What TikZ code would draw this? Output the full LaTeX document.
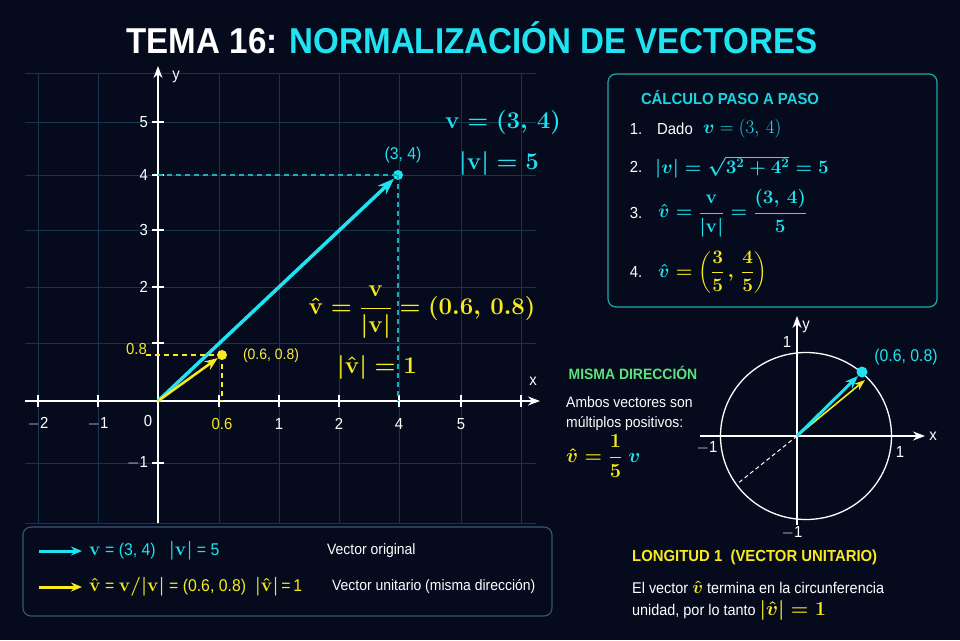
\RequirePackage{fix-cm}
\documentclass[tikz,border=0pt]{standalone}
\usepackage{amsmath}
\usepackage{bm}
\usepackage{fontspec}
\setsansfont{Liberation Sans}[FakeStretch=0.93]
\newfontfamily\titlefont{Liberation Sans}[FakeStretch=0.92]
\usetikzlibrary{arrows.meta}
\definecolor{bgc}{HTML}{050B1D}
\definecolor{gridc}{HTML}{18354E}
\definecolor{cyn}{HTML}{1FE3F0}
\definecolor{cyndark}{HTML}{19AEB8}
\definecolor{ylw}{HTML}{F7EA1E}
\definecolor{grn}{HTML}{5BE27C}
\definecolor{boxc}{HTML}{1FA9A3}
\definecolor{legc}{HTML}{3A5676}
\newcommand{\bv}{\mathbf{v}}
\newcommand{\hv}{\hat{\mathbf{v}}}
\newcommand{\hvi}{\hat{\bm{v}}}
\newcommand{\vbar}{\mathclose{|}}
\newcommand{\vbarl}{\mathopen{|}}
\newcommand{\TxtVeq}{{\mathversion{bold}$\bv = (3,\,4)$}}
\newcommand{\TxtVnorm}{{\mathversion{bold}$\vbarl\bv\vbar = 5$}}
\newcommand{\TxtVhatEq}{{\mathversion{bold}$\hv = \displaystyle\frac{\bv}{\vbarl\bv\vbar} = (0.6,\,0.8)$}}
\newcommand{\TxtVhatNorm}{{\mathversion{bold}$\vbarl\hv\vbar = 1$}}
\newcommand{\TxtStepTwo}{{\mathversion{bold}$\vbarl\bm{v}\vbar = \sqrt{3^2+4^2} = 5$}}
\newcommand{\TxtStepThree}{{\mathversion{bold}$\hvi = \displaystyle\frac{\bv}{\vbarl\bv\vbar} = \frac{(3,\,4)}{5}$}}
\newcommand{\TxtStepFour}{{\mathversion{bold}$\textcolor{cyn}{\hvi} = \left(\displaystyle\frac{3}{5}\,,\,\frac{4}{5}\right)$}}
\newcommand{\TxtOneFifth}{{\mathversion{bold}$\hvi = \displaystyle\frac{1}{5}\ \textcolor{cyn}{\bm{v}}$}}
\newcommand{\TxtHatSmall}{{\mathversion{bold}\fontsize{18}{20}\selectfont$\hvi$}}
\newcommand{\TxtNormSmall}{{\mathversion{bold}\fontsize{20}{22}\selectfont$\vbarl\hvi\vbar = 1$}}
\newcommand{\LegM}[1]{{\mathversion{bold}\fontsize{19}{20}\selectfont$#1$}}
\begin{document}
\begin{tikzpicture}[x=1pt,y=-1pt,
  txt/.style={font=\sffamily\fontsize{15}{18}\selectfont, text=white, inner sep=0pt},
  legtxt/.style={font=\sffamily\fontsize{17}{20}\selectfont, inner sep=0pt, anchor=west},
  ticklbl/.style={font=\sffamily\fontsize{16}{18}\selectfont, text=white, inner sep=0pt},
  bigmath/.style={font=\fontsize{24}{28}\selectfont, inner sep=0pt},
  stepmath/.style={font=\fontsize{19}{22}\selectfont, inner sep=0pt, anchor=west},
  steplbl/.style={font=\sffamily\fontsize{16}{18}\selectfont, text=white, inner sep=0pt},
  gridline/.style={gridc, line width=0.8pt},
  axisarrow/.style={white, line width=1.3pt, -{Stealth[length=12pt,width=9pt]}},
  tickmark/.style={white, line width=1.2pt},
  dot/.style={circle, inner sep=0pt, minimum size=10pt},
  dashcyan/.style={cyndark, line width=1.1pt, dash pattern=on 5pt off 4pt},
  dashylw/.style={ylw, line width=1.1pt, dash pattern=on 5pt off 4pt},
]
\fill[bgc] (0,0) rectangle (960,640);
\useasboundingbox (0,0) rectangle (960,640);

% ---------- title
\node[inner sep=0pt] (title) at (472,38) {\titlefont\bfseries\fontsize{36}{40}\selectfont\textcolor{white}{TEMA 16:} \textcolor{cyn}{NORMALIZACIÓN DE VECTORES}};

% ---------- grid
\foreach \gx in {38,98,219,279,339,399,461,521}{
  \draw[gridline] (\gx,73) -- (\gx,523);
}
\foreach \gy in {73,122,175,230,287,343,463,523}{
  \draw[gridline] (25,\gy) -- (536,\gy);
}

% ---------- axes
\coordinate (O) at (158,401);
\coordinate (xs) at (25,401);
\coordinate (xe) at (540,401);
\coordinate (ys) at (158,523);
\coordinate (ye) at (158,66);
\draw[axisarrow] (xs) -- (xe);
\draw[axisarrow] (ys) -- (ye);
\node[ticklbl] (xlbl) at (533,381) {x};
\node[ticklbl] (ylbl) at (176,77) {y};

\foreach \gx in {38,98,219,279,339,399,461,521}{
  \draw[tickmark] (\gx,395) -- (\gx,407);
}
\foreach \gy in {122,175,230,287,343,463}{
  \draw[tickmark] (152,\gy) -- (164,\gy);
}
\node[ticklbl, anchor=east] (y5) at (148,122) {5};
\node[ticklbl, anchor=east] (y4) at (148,175) {4};
\node[ticklbl, anchor=east] (y3) at (148,230) {3};
\node[ticklbl, anchor=east] (y2) at (148,287) {2};
\node[ticklbl, anchor=east, text=ylw] (y08) at (147,349) {0.8};
\node[ticklbl, anchor=east] (ym1) at (148,463) {$-$1};

\node[ticklbl] (xm2) at (38,424) {$-$2};
\node[ticklbl] (xm1) at (98,424) {$-$1};
\node[ticklbl] (x0) at (148,421) {0};
\node[ticklbl, text=ylw] (x06) at (222,424) {0.6};
\node[ticklbl] (x1) at (279,424) {1};
\node[ticklbl] (x2) at (339,424) {2};
\node[ticklbl] (x4) at (399,424) {4};
\node[ticklbl] (x5) at (461,424) {5};

% ---------- cyan vector
\node[dot, fill=cyn] (dotA) at (398,175) {};
\coordinate (c4y) at (158,175);
\coordinate (c4x) at (398,401);
\draw[dashcyan] (c4y) -- (dotA.center);
\draw[dashcyan] (dotA.center) -- (c4x);
\draw[cyn, line width=3.5pt, -{Stealth[length=17pt,width=12pt]}] (O) -- (dotA);
\node[font=\sffamily\fontsize{17}{20}\selectfont, text=cyn, inner sep=0pt] (lab34) at (403,155) {(3, 4)};

\node[bigmath, text=cyn] (veq) at (503,122) {\TxtVeq};
\node[bigmath, text=cyn] (vnorm) at (499,163) {\TxtVnorm};

% ---------- yellow vector
\node[dot, fill=ylw] (dotB) at (222,355) {};
\coordinate (c08y) at (146,355);
\coordinate (c06x) at (222,401);
\draw[dashylw] (c08y) -- (dotB.center);
\draw[dashylw] (dotB.center) -- (c06x);
\draw[ylw, line width=2.5pt, -{Stealth[length=13pt,width=10pt]}] (O) -- (dotB);
\node[font=\sffamily\fontsize{15}{18}\selectfont, text=ylw!80!white, inner sep=0pt] (lab068) at (271,356) {(0.6, 0.8)};

\node[bigmath, text=ylw] (vhateq) at (422,312) {\TxtVhatEq};
\node[bigmath, text=ylw] (vhatnorm) at (377,367) {\TxtVhatNorm};

% ---------- step box
\draw[boxc, line width=1.2pt, rounded corners=8pt, fill=bgc] (608,74) rectangle (937,307);
\node[font=\sffamily\bfseries\fontsize{16}{18}\selectfont, text=cyn!85!teal, inner sep=0pt] (steptitle) at (730,97) {CÁLCULO PASO A PASO};
\node[steplbl] (n1) at (636,129) {1.};
\node[steplbl, anchor=west] (dado) at (657,129) {Dado};
\node[stepmath, text=cyn] (m1) at (703,129) {$\bm{v} = (3,\,4)$};
\node[steplbl] (n2) at (636,167) {2.};
\node[stepmath, text=cyn] (m2) at (655,167) {\TxtStepTwo};
\node[steplbl] (n3) at (636,213) {3.};
\node[stepmath, text=cyn] (m3) at (658,213) {\TxtStepThree};
\node[steplbl] (n4) at (636,272) {4.};
\node[stepmath, text=ylw] (m4) at (658,272) {\TxtStepFour};

% ---------- unit circle
\coordinate (O2) at (797,436);
\coordinate (ccen) at (806,436);
\draw[white, line width=1.3pt] (ccen) ellipse [x radius=85.5, y radius=83.5];
\coordinate (x2s) at (700,436);
\coordinate (x2e) at (925,436);
\coordinate (y2s) at (797,525);
\coordinate (y2e) at (797,316);
\draw[axisarrow] (x2s) -- (x2e);
\draw[axisarrow] (y2s) -- (y2e);
\node[ticklbl] (cx) at (933,436) {x};
\node[ticklbl] (cy) at (806,327) {y};
\node[ticklbl] (c1t) at (787,342) {1};
\node[ticklbl] (cm1l) at (707,448) {$-$1};
\node[ticklbl] (c1r) at (900,452) {1};
\node[ticklbl] (cm1b) at (792,533) {$-$1};
\coordinate (dashend) at (737,484);
\draw[white, line width=1pt, dash pattern=on 4pt off 3pt] (O2) -- (dashend);
\node[dot, fill=cyn, minimum size=11pt] (dotC) at (862,372) {};
\coordinate (yend) at (865,380);
\draw[ylw, line width=1.6pt, -{Stealth[length=11pt,width=8pt]}] (O2) -- (yend);
\draw[cyn, line width=3pt, -{Stealth[length=13pt,width=10pt]}] (O2) -- (dotC);
\node[font=\sffamily\fontsize{17}{20}\selectfont, text=cyn, inner sep=0pt] (lab068c) at (906,357) {(0.6, 0.8)};

% ---------- misma direccion
\node[font=\sffamily\bfseries\fontsize{15}{18}\selectfont, text=grn, inner sep=0pt] (misma) at (633,373) {MISMA DIRECCIÓN};
\node[txt, anchor=west] (ambos) at (566,402) {Ambos vectores son};
\node[txt, anchor=west] (multi) at (566,424) {múltiplos positivos:};
\node[font=\fontsize{20}{24}\selectfont, inner sep=0pt, anchor=west, text=ylw] (frac15) at (566,456) {\TxtOneFifth};

% ---------- longitud 1
\node[font=\sffamily\bfseries\fontsize{16}{18}\selectfont, text=ylw, inner sep=0pt, anchor=west] (longi) at (632,557) {LONGITUD 1\ \ (VECTOR UNITARIO)};
\node[txt, font=\sffamily\fontsize{15.5}{18}\selectfont, anchor=west] (elv) at (632,587) {El vector \textcolor{ylw}{\TxtHatSmall} termina en la circunferencia};
\node[txt, font=\sffamily\fontsize{15.5}{18}\selectfont, anchor=west] (unid) at (632,610) {unidad, por lo tanto \textcolor{ylw}{\TxtNormSmall}};

% ---------- legend
\draw[legc, line width=1.1pt, rounded corners=8pt] (23,527) rectangle (552,616);
\coordinate (la1) at (39,551);
\coordinate (lb1) at (82,551);
\coordinate (la2) at (39,587);
\coordinate (lb2) at (82,587);
\draw[cyn, line width=3pt, -{Stealth[length=11pt,width=9pt]}] (la1) -- (lb1);
\draw[ylw, line width=3pt, -{Stealth[length=11pt,width=9pt]}] (la2) -- (lb2);
\node[legtxt, text=cyn] (leg1) at (89,551) {\LegM{\bv} = (3, 4)\ \ \ \LegM{\vbarl\bv\vbar} = 5};
\node[txt, anchor=west] (leg1b) at (327,551) {Vector original};
\node[legtxt, text=ylw] (leg2) at (89,587) {\LegM{\hv} = \LegM{\bv/\vbarl\bv\vbar} = (0.6, 0.8)\ \ \LegM{\vbarl\hv\vbar}\,=\,1};
\node[txt, anchor=west] (leg2b) at (332,587) {Vector unitario (misma dirección)};
\end{tikzpicture}
\end{document}
